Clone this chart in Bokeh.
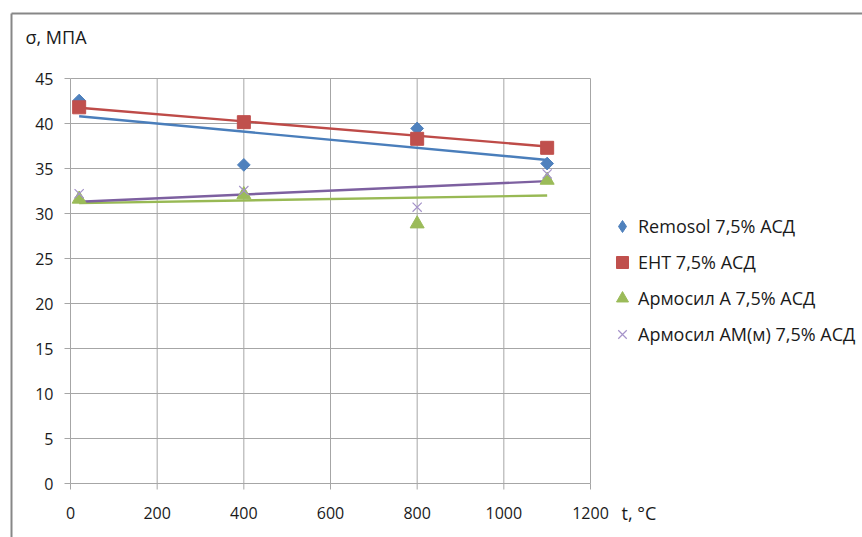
from bokeh.plotting import figure
from bokeh.models import Legend, LegendItem, Range1d
from bokeh.core.properties import value
from bokeh.embed import file_html
from bokeh.resources import INLINE
import numpy as np

# ---- data ----
temps = [20, 400, 800, 1100]
remosol = [42.55, 35.4, 39.45, 35.55]
eht = [41.8, 40.15, 38.3, 37.3]
armosil_a = [31.6, 32.1, 28.85, 33.7]
armosil_am = [32.2, 32.55, 30.7, 34.4]

trend_x = [20, 1100]
remosol_trend = [40.8, 35.95]
eht_trend = [41.75, 37.45]
armosil_a_trend = [31.15, 32.0]
armosil_am_trend = [31.3, 33.6]

names = ["Remosol 7,5% АСД", "ЕНТ 7,5% АСД", "Армосил А 7,5% АСД", "Армосил АМ(м) 7,5% АСД"]
x_ticks = [0, 200, 400, 600, 800, 1000, 1200]
x_tick_labels = ["0", "200", "400", "600", "800", "1000", "1200"]
y_ticks = [0, 5, 10, 15, 20, 25, 30, 35, 40, 45]
y_tick_labels = ["0", "5", "10", "15", "20", "25", "30", "35", "40", "45"]
y_title = "σ, МПА"
x_title = "t, °C"

# ---- layout (pixels) ----
W, H = 862, 537
PLOT_LEFT, PLOT_RIGHT = 70, 590      # canvas px of x = 0 and x = 1200
PLOT_TOP, PLOT_BOTTOM = 78, 483      # canvas px of y = 45 and y = 0
FRAME_LEFT, FRAME_TOP = 11, 13       # chart-area border (px)
TICK = 6
FONT = "Open Sans"
GRID = "#A6A6A6"
TXT = "#1a1a1a"

xmin, xmax = x_ticks[0], x_ticks[-1]
ymin, ymax = y_ticks[0], y_ticks[-1]
kx = (PLOT_RIGHT - PLOT_LEFT) / (xmax - xmin)
ky = (PLOT_BOTTOM - PLOT_TOP) / (ymax - ymin)
x0 = xmin - PLOT_LEFT / kx
y0 = ymin - (H - PLOT_BOTTOM) / ky


def px_x(px):
    return x0 + px / kx


def px_y(py):
    return y0 + (H - py) / ky


p = figure(width=W, height=H, output_backend="svg", toolbar_location=None,
           x_axis_location=None, y_axis_location=None,
           x_range=Range1d(x0, x0 + W / kx), y_range=Range1d(y0, y0 + H / ky),
           min_border=0)
p.title.text = ""
p.title.visible = False
p.grid.visible = False
p.background_fill_color = "white"
p.border_fill_color = "white"
p.outline_line_color = None

nx, ny = len(x_ticks), len(y_ticks)
# grid lines (also serve as the axis lines)
p.segment(x0=x_ticks, y0=[ymin] * nx, x1=x_ticks, y1=[ymax] * nx,
          line_color=GRID, line_width=1, level="underlay")
p.segment(x0=[xmin] * ny, y0=y_ticks, x1=[xmax] * ny, y1=y_ticks,
          line_color=GRID, line_width=1, level="underlay")
# outward tick marks
p.segment(x0=x_ticks, y0=[ymin] * nx, x1=x_ticks, y1=[ymin - TICK / ky] * nx,
          line_color=GRID, line_width=1, level="underlay")
p.segment(x0=[xmin] * ny, y0=y_ticks, x1=[xmin - TICK / kx] * ny, y1=y_ticks,
          line_color=GRID, line_width=1, level="underlay")

# chart-area border: left and top edges (right and bottom lie outside the window)
p.segment(x0=[px_x(FRAME_LEFT), px_x(FRAME_LEFT)], y0=[px_y(FRAME_TOP), px_y(FRAME_TOP)],
          x1=[px_x(FRAME_LEFT), px_x(W + 5)], y1=[px_y(H + 5), px_y(FRAME_TOP)],
          line_color="#878787", line_width=2, level="overlay")

# tick labels and axis titles
p.text(x=x_ticks, y=[ymin] * nx, text=x_tick_labels, y_offset=29,
       text_align="center", text_baseline="middle", text_font=value(FONT),
       text_font_size="16px", text_color=TXT)
p.text(x=[xmin] * ny, y=y_ticks, text=y_tick_labels, x_offset=-17,
       text_align="right", text_baseline="middle", text_font=value(FONT),
       text_font_size="16px", text_color=TXT)
p.text(x=[xmin], y=[ymax], text=[y_title], x_offset=-45, y_offset=-42,
       text_align="left", text_baseline="middle", text_font=value(FONT),
       text_font_size="18px", text_color=TXT)
p.text(x=[xmax], y=[ymin], text=[x_title], x_offset=31, y_offset=29,
       text_align="left", text_baseline="middle", text_font=value(FONT),
       text_font_size="18px", text_color=TXT)

# trend lines
p.line(trend_x, remosol_trend, line_color="#4A7EBB", line_width=2.4)
p.line(trend_x, eht_trend, line_color="#BE4B48", line_width=2.4)
p.line(trend_x, armosil_a_trend, line_color="#98B954", line_width=2.4)
p.line(trend_x, armosil_am_trend, line_color="#7D60A0", line_width=2.4)

# markers; the small "diamond" renderer sits hidden under the rotated squares and
# supplies the diamond swatch of the legend
r1_key = p.scatter(temps, remosol, marker="diamond", size=8,
                   fill_color="#4F81BD", line_color="#4F81BD")
r1 = p.scatter(temps, remosol, marker="square", angle=np.pi / 4, size=9,
               fill_color="#4F81BD", line_color="#4F81BD")
r2 = p.scatter(temps, eht, marker="square", size=13, fill_color="#C0504D", line_color="#C0504D")
r3 = p.scatter(temps, armosil_a, marker="triangle", size=14, fill_color="#9BBB59", line_color="#9BBB59")
r4 = p.scatter(temps, armosil_am, marker="x", size=13, line_color="#A593C9", line_width=1.2)

legend = Legend(items=[LegendItem(label=n, renderers=[r]) for n, r in zip(names, [r1_key, r2, r3, r4])],
                location=(607, H - 211 - 138), glyph_width=30, glyph_height=30,
                label_height=30, label_standoff=1, spacing=6, padding=0, margin=0,
                label_text_font=FONT, label_text_font_size="18px", label_text_color=TXT,
                border_line_color=None, background_fill_alpha=0)
p.add_layout(legend)

open("out.html", "w").write(file_html(p, INLINE))
